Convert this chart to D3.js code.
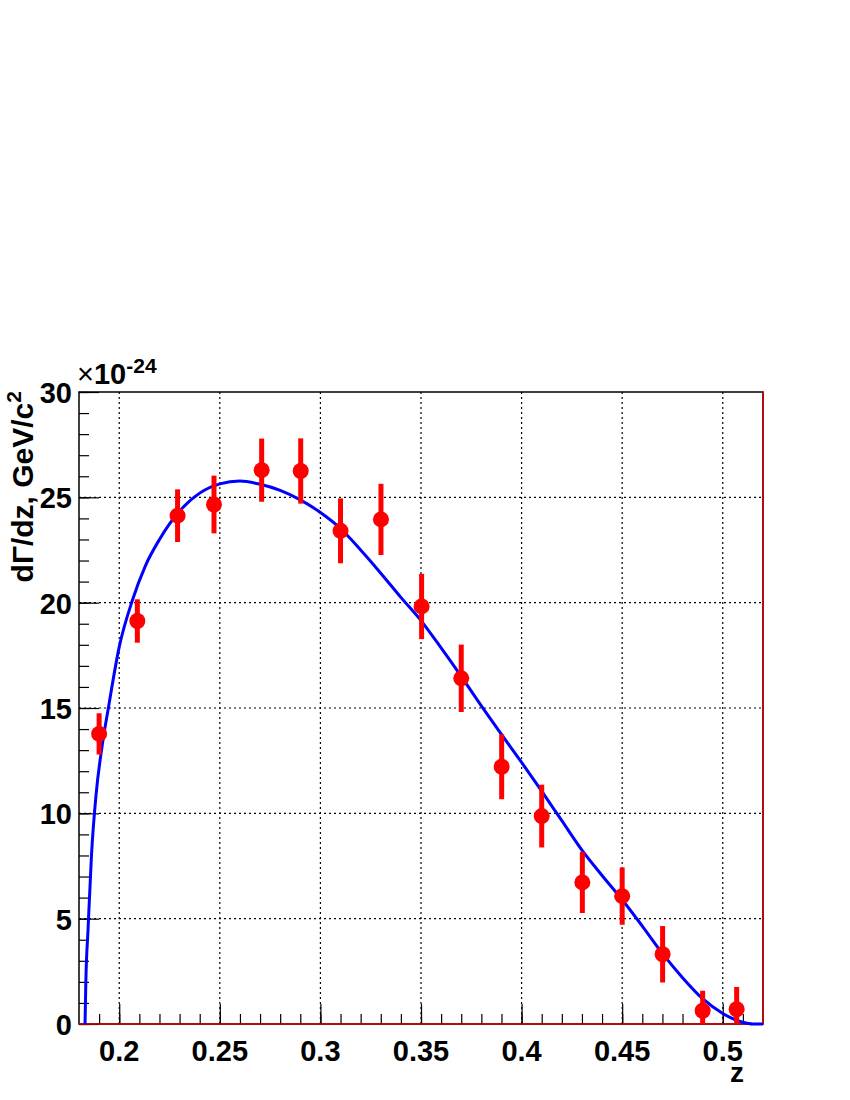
<!DOCTYPE html>
<html>
<head>
<meta charset="utf-8">
<script src="https://cdn.jsdelivr.net/npm/d3@7"></script>
<style>
body { margin: 0; background: #fff; }
text { font-family: "Liberation Sans", Arial, sans-serif; font-weight: bold; }
</style>
</head>
<body>
<div id="chart"></div>
<script>
// measured points (z, value in 1e-24 units, error)
var zVals = [0.19, 0.209, 0.229, 0.2471, 0.2708, 0.2902, 0.31, 0.3301, 0.3503, 0.37, 0.3901, 0.41, 0.4302, 0.45, 0.4701, 0.49, 0.5069]
var yVals = [13.77, 19.13, 24.13, 24.66, 26.29, 26.25, 23.41, 23.95, 19.82, 16.41, 12.21, 9.87, 6.72, 6.07, 3.31, 0.63, 0.70]
var yErrs = [0.98, 1.03, 1.25, 1.37, 1.5, 1.55, 1.54, 1.69, 1.55, 1.6, 1.54, 1.49, 1.45, 1.36, 1.34, 0.95, 1.06]

// fit curve
var curveZ = [0.183, 0.1834, 0.1845, 0.1862, 0.1885, 0.1915, 0.1946, 0.2, 0.2065, 0.213, 0.22, 0.23, 0.24, 0.25, 0.26, 0.27, 0.28, 0.29, 0.30, 0.31, 0.32, 0.33, 0.34, 0.35, 0.36, 0.37, 0.38, 0.39, 0.40, 0.41, 0.42, 0.43, 0.44, 0.45, 0.46, 0.47, 0.48, 0.49, 0.50, 0.51, 0.515, 0.52]
var curveV = [0, 2.0, 4.5, 8.0, 10.9, 13.2, 15.0, 17.9, 20.1, 21.75, 23.0, 24.35, 25.2, 25.64, 25.77, 25.62, 25.33, 24.88, 24.28, 23.52, 22.5, 21.4, 20.25, 19.15, 17.85, 16.5, 15.1, 13.75, 12.42, 11.05, 9.65, 8.25, 7.05, 5.9, 4.65, 3.35, 2.2, 1.2, 0.5, 0.08, 0, 0]

var xMajor = [0.2, 0.25, 0.3, 0.35, 0.4, 0.45, 0.5]
var xLabels = ['0.2', '0.25', '0.3', '0.35', '0.4', '0.45', '0.5']
var yMajor = [0, 5, 10, 15, 20, 25, 30]

var W = 850, H = 1100
var margin = { top: 392, right: 87, bottom: 76, left: 79 }
var plotW = W - margin.left - margin.right
var plotH = H - margin.top - margin.bottom

var x = d3.scaleLinear().domain([0.18, 0.52]).range([0, plotW])
var y = d3.scaleLinear().domain([0, 30]).range([plotH, 0])

var svg = d3.select('#chart').append('svg')
	.attr('width', W)
	.attr('height', H)

var g = svg.append('g')
	.attr('transform', 'translate(' + margin.left + ',' + margin.top + ')')

// grid
g.selectAll('.gx').data(xMajor).enter().append('line')
	.attr('x1', d => x(d)).attr('x2', d => x(d))
	.attr('y1', 0).attr('y2', plotH)
	.attr('stroke', '#000').attr('stroke-width', 1.2)
	.attr('stroke-dasharray', '2,3')
g.selectAll('.gy').data(yMajor.slice(1, -1)).enter().append('line')
	.attr('x1', 0).attr('x2', plotW)
	.attr('y1', d => y(d)).attr('y2', d => y(d))
	.attr('stroke', '#000').attr('stroke-width', 1.2)
	.attr('stroke-dasharray', '2,3')

// axes with ROOT-style inner ticks
var xMinor = d3.range(19, 52).map(d => d / 100)
var xAxisMinor = d3.axisTop(x).tickValues(xMinor).tickSize(10).tickFormat('')
var xAxisMajor = d3.axisTop(x).tickValues(xMajor).tickSize(20).tickFormat('')
g.append('g').attr('transform', 'translate(0,' + plotH + ')').call(xAxisMinor)
g.append('g').attr('transform', 'translate(0,' + plotH + ')').call(xAxisMajor)

var yMinor = d3.range(0, 31)
var yAxisMinor = d3.axisRight(y).tickValues(yMinor).tickSize(10).tickFormat('')
var yAxisMajor = d3.axisRight(y).tickValues(yMajor).tickSize(20).tickFormat('')
g.append('g').call(yAxisMinor)
g.append('g').call(yAxisMajor)
g.selectAll('.domain').remove()
g.selectAll('.tick line').attr('stroke', '#000').attr('stroke-width', 1.2)

// tick labels
g.selectAll('.xl').data(xMajor).enter().append('text')
	.attr('x', d => x(d)).attr('y', plotH + 37)
	.attr('text-anchor', 'middle')
	.style('font-size', '29px')
	.text((d, i) => xLabels[i])
g.selectAll('.yl').data(yMajor).enter().append('text')
	.attr('x', -7).attr('y', d => y(d) + 11)
	.attr('text-anchor', 'end')
	.style('font-size', '29px')
	.text(d => d)

// frame
g.append('rect').attr('width', plotW).attr('height', plotH)
	.attr('fill', 'none').attr('stroke', '#000').attr('stroke-width', 1.5)
g.append('path')
	.attr('d', 'M0,' + plotH + 'H' + plotW + 'V0')
	.attr('fill', 'none').attr('stroke', '#d00000').attr('stroke-width', 1.5)

// fit curve
var line = d3.line()
	.x(d => x(d[0]))
	.y(d => y(d[1]))
	.curve(d3.curveMonotoneX)
g.append('path')
	.datum(d3.zip(curveZ, curveV))
	.attr('d', line)
	.attr('fill', 'none')
	.attr('stroke', '#0000ff')
	.attr('stroke-width', 3)

// data points
var pts = g.selectAll('.pt').data(d3.range(zVals.length)).enter().append('g')
pts.append('line')
	.attr('x1', i => x(zVals[i])).attr('x2', i => x(zVals[i]))
	.attr('y1', i => y(Math.max(0, yVals[i] - yErrs[i])))
	.attr('y2', i => y(yVals[i] + yErrs[i]))
	.attr('stroke', '#ff0000').attr('stroke-width', 5)
pts.append('circle')
	.attr('cx', i => x(zVals[i])).attr('cy', i => y(yVals[i]))
	.attr('r', 8).attr('fill', '#ff0000')

// exponent label
var ex = svg.append('text').attr('x', margin.left - 2).attr('y', margin.top - 8)
	.style('font-size', '29px')
ex.append('tspan').style('font-weight', 'normal').text('\u00d7')
ex.append('tspan').text('10')
ex.append('tspan').attr('dy', -11).style('font-size', '21px').text('-24')

// axis titles
svg.append('text')
	.attr('x', margin.left + plotW - 19).attr('y', margin.top + plotH + 58)
	.attr('text-anchor', 'end')
	.style('font-size', '28px')
	.text('z')

var yt = svg.append('text')
	.attr('transform', 'translate(33,' + (margin.top - 1) + ') rotate(-90)')
	.attr('text-anchor', 'end')
	.style('font-size', '30px')
yt.append('tspan').text('d\u0393/dz, GeV/c')
yt.append('tspan').attr('dy', -12).style('font-size', '21px').text('2')
</script>
</body>
</html>
